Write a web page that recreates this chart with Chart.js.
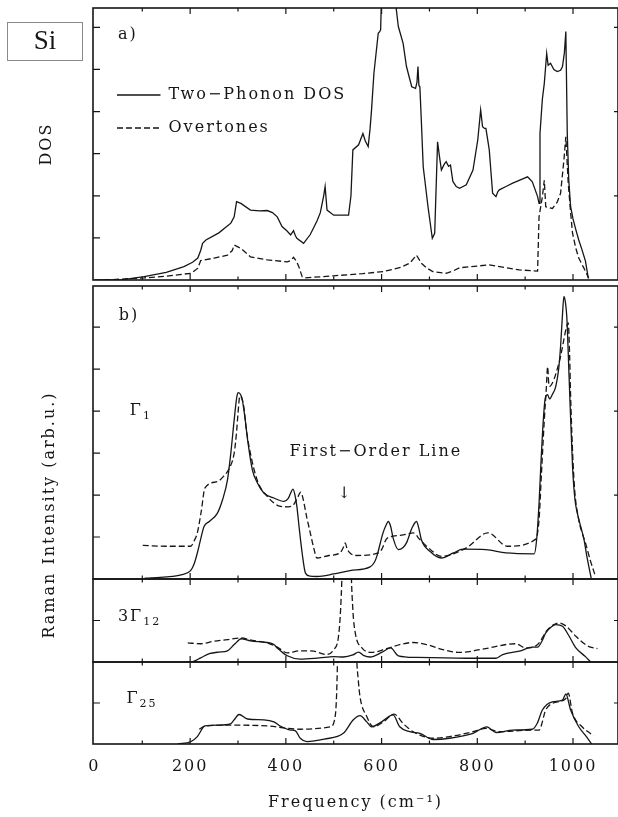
<!DOCTYPE html>
<html><head><meta charset="utf-8">
<script src="https://cdn.jsdelivr.net/npm/chart.js@4.4.1/dist/chart.umd.min.js"></script>
<style>html,body{margin:0;padding:0;background:#fff;}canvas{display:block;}</style>
</head><body>
<canvas id="c" width="618" height="817"></canvas>
<script>
// ---------- data (frequency in cm^-1, intensity in tick units) ----------
const dosFreq = [0,60,104,150,187,205,216,222,226,233,260,285,292,297,306,326,345,361,372,382,392,402,410,416,420,423,437,451,465,472,479,482,486,500,531,536,540,552,561,566,572,576,579,584,593,596,598,600,606,620,628,630,635,645,652,663,671,674,676,678,680,683,687,697,706,711,714,717,721,725,731,735,740,744,749,756,763,777,791,801,807,811,815,818,825,832,839,843,846,860,874,890,905,915,926,929,931,936,940,945,948,953,960,967,974,978,982,985,988,991,995,1000,1006,1012,1019,1026,1032];
const dosTwoPhonon = [0,0.01,0.08,0.18,0.32,0.42,0.52,0.7,0.87,0.95,1.12,1.35,1.5,1.86,1.82,1.66,1.64,1.65,1.6,1.5,1.27,1.17,1.07,1.17,1.05,0.99,0.87,1.08,1.4,1.6,2.0,2.22,1.66,1.54,1.54,2.0,3.09,3.21,3.48,3.3,3.17,3.6,4.04,4.91,5.86,5.9,5.94,6.8,7.6,7.8,7.0,6.5,6.02,5.62,5.07,4.59,4.55,4.7,5.07,4.62,4.59,3.8,2.69,1.74,0.99,1.11,2.2,3.28,2.93,2.61,2.75,2.81,2.7,2.73,2.34,2.22,2.18,2.26,2.61,3.33,4.04,3.64,3.6,3.6,3.09,2.06,1.98,2.1,2.14,2.22,2.3,2.38,2.45,2.33,1.98,1.82,3.48,4.3,4.67,5.38,5.1,5.15,5.0,4.95,4.98,5.07,5.4,5.9,3.48,2.4,1.74,1.45,1.19,0.95,0.71,0.45,0.04];

const ovFreq = [20,104,150,202,216,222,250,278,288,292,306,326,361,403,410,416,422,427,434,440,500,560,604,640,659,673,683,695,707,735,750,763,825,888,926,929,936,940,943,957,967,974,981,985,990,995,999,1006,1012,1022,1033];
const dosOvertones = [0,0.05,0.09,0.16,0.28,0.46,0.52,0.59,0.7,0.83,0.75,0.55,0.48,0.43,0.46,0.54,0.45,0.32,0.08,0.05,0.1,0.15,0.2,0.3,0.4,0.59,0.4,0.28,0.2,0.16,0.22,0.29,0.36,0.24,0.21,1.5,1.98,2.37,1.74,1.7,1.85,2.06,2.85,3.4,2.3,1.6,1.11,0.75,0.52,0.3,0.04];

const g1Freq = [105,150,181,201,208,215,222,229,240,257,268,278,285,292,297,300,305,309,315,320,330,340,354,375,396,405,410,415,419,423,428,434,441,450,465,500,534,576,585,590,603,610,614,619,624,635,645,652,663,673,678,683,701,725,750,770,818,860,919,924,929,933,938,942,947,951,957,964,970,974,978,981,984,987,992,999,1004,1009,1016,1023,1028,1033,1038];
const g1Solid = [0.02,0.05,0.1,0.2,0.35,0.62,0.95,1.25,1.37,1.57,1.9,2.36,3.0,3.79,4.3,4.44,4.4,4.27,3.8,3.32,2.6,2.3,2.05,1.93,1.85,1.92,2.05,2.14,2.0,1.73,1.2,0.62,0.14,0.07,0.06,0.12,0.2,0.29,0.4,0.54,1.1,1.3,1.37,1.25,0.98,0.7,0.75,0.86,1.2,1.37,1.2,0.94,0.66,0.5,0.62,0.71,0.7,0.62,0.6,0.94,1.8,2.76,3.8,4.31,4.39,4.29,4.4,4.59,5.0,5.54,6.3,6.73,6.6,6.25,4.75,2.68,1.9,1.57,1.25,0.94,0.6,0.3,0.02];
const g1dFreq = [101,150,201,208,215,223,231,257,270,282,292,297,300,304,308,312,317,323,340,361,389,405,416,425,431,434,444,451,458,465,490,513,520,524,528,534,548,593,600,610,624,645,666,680,700,725,777,822,863,922,929,934,940,944,947,949,951,960,967,974,980,985,990,993,995,1002,1012,1019,1026,1036,1047];
const g1Dashed = [0.8,0.78,0.78,0.9,1.1,1.6,2.17,2.32,2.45,2.64,3.0,3.5,3.95,4.36,4.3,4.11,3.6,3.16,2.36,1.97,1.73,1.72,1.77,1.95,2.07,2.0,1.45,1.1,0.75,0.5,0.56,0.62,0.75,0.86,0.72,0.62,0.56,0.62,0.7,0.95,1.02,1.05,1.1,0.94,0.72,0.54,0.74,1.1,0.78,0.95,1.41,2.5,3.79,4.5,5.06,4.7,4.59,4.75,5.0,5.3,5.65,5.94,6.1,5.3,4.35,2.36,1.41,1.1,0.86,0.45,0.06];

const g12Freq = [190,205,222,240,260,278,292,307,326,361,375,382,403,430,470,500,520,540,552,562,576,600,619,635,673,777,839,853,888,915,926,935,943,955,964,978,992,1006,1026,1037];
const g12Solid = [0,0.01,0.1,0.2,0.24,0.27,0.42,0.56,0.51,0.47,0.42,0.34,0.15,0.07,0.1,0.13,0.12,0.17,0.24,0.16,0.12,0.23,0.34,0.15,0.11,0.09,0.09,0.18,0.26,0.36,0.36,0.5,0.7,0.85,0.9,0.86,0.62,0.34,0.13,0];
const g12dFreq = [195,222,250,278,307,330,361,382,403,430,458,485,500,510,515,518,522,527,532,536,540,545,559,579,610,638,666,694,728,763,811,880,901,926,947,971,985,1006,1030,1051];
const g12Dashed = [0.46,0.44,0.5,0.54,0.58,0.52,0.46,0.36,0.22,0.27,0.26,0.18,0.3,0.62,1.42,2.5,6,8,6,2.5,1.26,0.7,0.34,0.23,0.32,0.42,0.47,0.42,0.3,0.23,0.31,0.44,0.34,0.42,0.78,0.94,0.87,0.62,0.39,0.32];

const g25Freq = [174,202,215,231,260,284,292,302,320,354,375,388,410,420,430,444,480,520,541,555,569,579,600,624,638,659,680,708,742,791,820,839,874,915,925,936,957,978,985,995,1012,1028,1039];
const g25Solid = [0,0.06,0.18,0.44,0.46,0.49,0.59,0.72,0.61,0.59,0.54,0.44,0.34,0.32,0.14,0.06,0.12,0.26,0.59,0.69,0.54,0.42,0.54,0.71,0.42,0.3,0.26,0.11,0.14,0.26,0.42,0.28,0.34,0.36,0.5,0.83,1.03,1.07,1.22,0.83,0.42,0.18,0];
const g25dFreq = [219,231,292,361,430,493,503,506,508,515,528,540,548,551,555,569,583,604,626,645,666,708,742,791,818,846,915,929,943,957,985,990,999,1019,1043];
const g25Dashed = [0.36,0.44,0.46,0.44,0.36,0.42,0.67,1.2,2.1,6,9,6,2.1,1.6,1.15,0.67,0.42,0.54,0.73,0.5,0.3,0.14,0.18,0.3,0.38,0.3,0.34,0.34,0.83,0.99,1.11,1.24,0.75,0.42,0.2];

// ticks
const xTickLabels = [0,200,400,600,800,1000];
const xMajorTicks = [200,400,600,800,1000];
const xMinorTicks = [100,300,500,700,900];
const yTicksLeft = {yA:[1,2,3,4,5,6], yB:[1,2,3,4,5,6], yC:[1], yD:[1]};
const yTicksRight = {yA:[2,4,6], yB:[2,4,6], yC:[1], yD:[1]};

// text annotations (data coordinates)
const notes = [
  {axis:'yA', x:49, y:5.82, text:'a)'},
  {axis:'yB', x:51, y:6.28, text:'b)'},
  {axis:'yB', x:74, y:4.0, text:'Γ', sub:'1'},
  {axis:'yB', x:588, y:3.03, text:'First−Order Line', align:'center'},
  {axis:'yB', x:524, y:2.03, text:'↓', align:'center'},
  {axis:'yC', x:49, y:1.08, text:'3Γ', sub:'12'},
  {axis:'yD', x:67, y:1.1, text:'Γ', sub:'25'}
];

const FONT = 'DejaVu Serif';
const INK = '#161616';
const pts = (xs, ys) => xs.map((x, i) => ({x, y: ys[i]}));
const solid = {borderColor: INK, backgroundColor: INK, borderWidth: 1.3, pointRadius: 0, fill: false};
const dashed = {borderColor: INK, backgroundColor: INK, borderWidth: 1.3, pointRadius: 0, fill: false, borderDash: [6, 3]};

const panelPlugin = {
  id: 'panels',
  afterLayout(chart) {
    const lg = chart.legend;
    if (lg) { lg.left = chart.chartArea.left + 7; lg.top = chart.chartArea.top + 62; }
  },
  beforeDraw(chart) { chart.ctx.letterSpacing = '2px'; },
  beforeDatasetDraw(chart, args) {
    const ds = chart.data.datasets[args.index];
    const ys = chart.scales[ds.yAxisID];
    const ca = chart.chartArea;
    const ctx = chart.ctx;
    ctx.save();
    ctx.beginPath();
    ctx.rect(ca.left, ys.top, ca.right - ca.left, ys.bottom - ys.top);
    ctx.clip();
  },
  afterDatasetDraw(chart) { chart.ctx.restore(); },
  afterDraw(chart) {
    const ctx = chart.ctx, ca = chart.chartArea, xs = chart.scales.x;
    ctx.save();
    ctx.strokeStyle = INK;
    ['yA','yB','yC','yD'].forEach(id => {
      const s = chart.scales[id];
      ctx.lineWidth = 1.6;
      ctx.strokeRect(ca.left, s.top, ca.right - ca.left, s.bottom - s.top);
      ctx.lineWidth = 1.2;
      ctx.beginPath();
      const tick = (v, len) => {
        const px = xs.getPixelForValue(v);
        ctx.moveTo(px, s.top); ctx.lineTo(px, s.top + len);
        ctx.moveTo(px, s.bottom); ctx.lineTo(px, s.bottom - len);
      };
      xMajorTicks.forEach(v => tick(v, 6));
      xMinorTicks.forEach(v => tick(v, 3.5));
      yTicksLeft[id].forEach(v => { const py = s.getPixelForValue(v); ctx.moveTo(ca.left, py); ctx.lineTo(ca.left + 7, py); });
      yTicksRight[id].forEach(v => { const py = s.getPixelForValue(v); ctx.moveTo(ca.right, py); ctx.lineTo(ca.right - 4, py); });
      ctx.stroke();
    });
    // annotations
    ctx.fillStyle = INK;
    ctx.letterSpacing = '2px';
    ctx.textBaseline = 'middle';
    notes.forEach(n => {
      const px = xs.getPixelForValue(n.x), py = chart.scales[n.axis].getPixelForValue(n.y);
      ctx.font = '16px "' + FONT + '"';
      ctx.textAlign = n.align || 'left';
      ctx.fillText(n.text, px, py);
      if (n.sub) {
        const w = ctx.measureText(n.text).width;
        ctx.font = '11px "' + FONT + '"';
        ctx.textAlign = 'left';
        ctx.fillText(n.sub, px + w, py + 5);
      }
    });
    // shared y title for panels b
    const top = chart.scales.yB.top, bot = chart.scales.yD.bottom;
    ctx.save();
    ctx.translate(50, (top + bot) / 2);
    ctx.rotate(-Math.PI / 2);
    ctx.font = '16px "' + FONT + '"';
    ctx.textAlign = 'center';
    ctx.fillText('Raman Intensity (arb.u.)', 0, 0);
    ctx.restore();
    // Si box
    ctx.strokeStyle = '#8a8a8a';
    ctx.lineWidth = 1;
    ctx.strokeRect(7.5, 22.5, 75, 38);
    ctx.font = '27px "Liberation Serif"';
    ctx.letterSpacing = '0px';
    ctx.textAlign = 'center';
    ctx.fillText('Si', 45, 42);
    ctx.restore();
  }
};

const yAxis = (min, max, weight, stackWeight, extra) => Object.assign({
  type: 'linear', position: 'left', stack: 'panels', min, max, weight, stackWeight, offset: false,
  afterFit: s => { s.width = 93; },
  grid: {display: false, drawTicks: false}, border: {display: false}, ticks: {display: false}
}, extra || {});

new Chart(document.getElementById('c'), {
  type: 'line',
  data: {datasets: [
    Object.assign({label: 'Two−Phonon DOS', data: pts(dosFreq, dosTwoPhonon), yAxisID: 'yA', tension: 0}, solid),
    Object.assign({label: 'Overtones', data: pts(ovFreq, dosOvertones), yAxisID: 'yA', tension: 0}, dashed),
    Object.assign({label: 'Γ1 two-phonon', data: pts(g1Freq, g1Solid), yAxisID: 'yB', cubicInterpolationMode: 'monotone'}, solid),
    Object.assign({label: 'Γ1 overtones', data: pts(g1dFreq, g1Dashed), yAxisID: 'yB', cubicInterpolationMode: 'monotone'}, dashed),
    Object.assign({label: '3Γ12 two-phonon', data: pts(g12Freq, g12Solid), yAxisID: 'yC', cubicInterpolationMode: 'monotone'}, solid),
    Object.assign({label: '3Γ12 overtones', data: pts(g12dFreq, g12Dashed), yAxisID: 'yC', cubicInterpolationMode: 'monotone'}, dashed),
    Object.assign({label: 'Γ25 two-phonon', data: pts(g25Freq, g25Solid), yAxisID: 'yD', cubicInterpolationMode: 'monotone'}, solid),
    Object.assign({label: 'Γ25 overtones', data: pts(g25dFreq, g25Dashed), yAxisID: 'yD', cubicInterpolationMode: 'monotone'}, dashed)
  ]},
  options: {
    responsive: false, animation: false, devicePixelRatio: 1, events: [],
    layout: {padding: {top: 8, left: 0, right: -1, bottom: 0}},
    scales: {
      x: {
        type: 'linear', position: 'bottom', min: -3, max: 1094,
        afterBuildTicks: s => { s.ticks = xTickLabels.map(v => ({value: v})); },
        afterFit: s => { s.height = 73; },
        grid: {display: false, drawTicks: false}, border: {display: false},
        ticks: {padding: 13, color: INK, font: {family: FONT, size: 16}, maxRotation: 0, autoSkip: false, callback: v => String(v)},
        title: {display: true, text: 'Frequency (cm⁻¹)', color: INK, font: {family: FONT, size: 16}, padding: {top: 0, bottom: 5}}
      },
      yA: yAxis(0, 6.46, 5, 272, {title: {display: true, text: 'DOS', color: INK, font: {family: FONT, size: 16}, padding: {top: 37, bottom: 0}}}),
      gap: yAxis(0, 1, 4, 6),
      yB: yAxis(0, 6.98, 3, 293),
      yC: yAxis(0, 2, 2, 83),
      yD: yAxis(0, 2, 1, 82)
    },
    plugins: {
      legend: {
        position: 'chartArea', align: 'start',
        labels: {
          usePointStyle: false, boxWidth: 43.5, boxHeight: 0, padding: 17,
          color: INK, font: {family: FONT, size: 16},
          filter: item => item.datasetIndex < 2
        }
      },
      tooltip: {enabled: false}
    }
  },
  plugins: [panelPlugin]
});
</script>
</body></html>
